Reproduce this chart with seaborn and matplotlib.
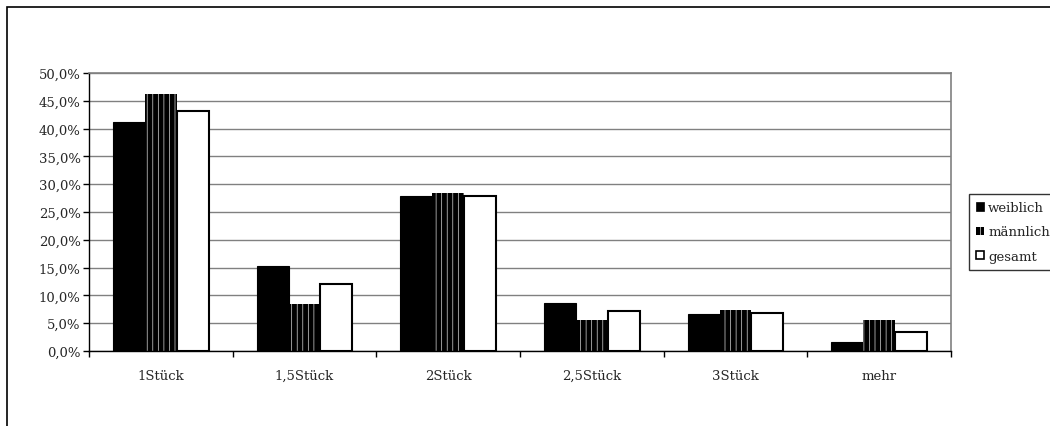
import matplotlib
matplotlib.use("Agg")
import matplotlib.pyplot as plt
from matplotlib.patches import Patch, Rectangle
from matplotlib.ticker import FixedLocator, FuncFormatter
import numpy as np
import pandas as pd
import seaborn as sns

# Anteile in Prozent je Kategorie
categories = ["1Stück", "1,5Stück", "2Stück", "2,5Stück", "3Stück", "mehr"]
weiblich = [41.1, 15.2, 27.8, 8.7, 6.6, 1.6]
maennlich = [46.2, 8.4, 28.4, 5.5, 7.4, 5.6]
gesamt = [43.2, 12.0, 27.8, 7.2, 6.9, 3.4]
series_names = ["weiblich", "männlich", "gesamt"]

df = pd.DataFrame({
    "Kategorie": categories * 3,
    "Gruppe": [series_names[0]] * 6 + [series_names[1]] * 6 + [series_names[2]] * 6,
    "Anteil": weiblich + maennlich + gesamt,
})

sns.set_style("white")
plt.rcParams["font.family"] = ["DejaVu Serif"]
plt.rcParams["hatch.linewidth"] = 0.5

FS = 9.5
HATCH_COL = "#d8d8d8"

fig = plt.figure(figsize=(10.5, 4.27), dpi=100)
ax = fig.add_axes([89 / 1050, 1 - 352 / 427, (951 - 89) / 1050, (352 - 74) / 427])

palette = {"weiblich": "black", "männlich": "black", "gesamt": "white"}
sns.barplot(data=df, x="Kategorie", y="Anteil", hue="Gruppe", order=categories,
            hue_order=series_names, palette=palette, width=0.667, gap=0,
            saturation=1, legend=False, ax=ax)

# Balken gestalten: schwarz, schwarz mit heller Schraffur, weiß mit Rand
for cont, name in zip(ax.containers, series_names):
    for p in cont:
        if name == "weiblich":
            p.set_facecolor("black")
            p.set_edgecolor("black")
            p.set_linewidth(0.8)
        elif name == "männlich":
            p.set_facecolor("black")
            p.set_edgecolor(HATCH_COL)
            p.set_hatch("|||")
            p.set_linewidth(0)
        else:
            p.set_facecolor("white")
            p.set_edgecolor("black")
            p.set_linewidth(1.5)

ax.set_xlim(-0.5, len(categories) - 0.5)
ax.set_ylim(0, 50)
ax.set_yticks(np.arange(0, 50.1, 5))
ax.yaxis.set_major_formatter(FuncFormatter(lambda v, _: f"{v:.1f}%".replace(".", ",")))
ax.yaxis.grid(True, color="#808080", linewidth=1.0)
ax.set_axisbelow(True)

# Teilstriche an den Kategoriegrenzen, Beschriftung in der Mitte
ax.xaxis.set_major_locator(FixedLocator(np.arange(-0.5, len(categories), 1.0)))
ax.xaxis.set_major_formatter(FuncFormatter(lambda v, _: ""))
ax.xaxis.set_minor_locator(FixedLocator(np.arange(len(categories))))
ax.set_xticklabels(categories, minor=True)
ax.tick_params(axis="x", which="major", direction="out", length=4, width=1, color="black", bottom=True)
ax.tick_params(axis="x", which="minor", length=0, pad=13, labelsize=FS)
ax.tick_params(axis="y", direction="out", length=4, width=1, color="black", left=True, pad=2, labelsize=FS)
ax.set_xlabel("")
ax.set_ylabel("")

for side in ["left", "bottom"]:
    ax.spines[side].set_color("black")
    ax.spines[side].set_linewidth(1)
for side in ["top", "right"]:
    ax.spines[side].set_color("#808080")
    ax.spines[side].set_linewidth(1.2)

# Legende
handles = [
    Patch(facecolor="black", edgecolor="black", linewidth=0.5, label="weiblich"),
    Patch(facecolor="black", edgecolor=HATCH_COL, hatch="|||", linewidth=0, label="männlich"),
    Patch(facecolor="white", edgecolor="black", linewidth=1.2, label="gesamt"),
]
leg = fig.legend(handles=handles, loc="upper left",
                 bbox_to_anchor=(969 / 1050, 1 - 195 / 427),
                 fontsize=FS, frameon=True, fancybox=False, shadow=False,
                 handlelength=0.6, handleheight=0.6, handletextpad=0.3,
                 labelspacing=0.85, borderpad=0.55, borderaxespad=0)
leg.get_frame().set_edgecolor("black")
leg.get_frame().set_linewidth(1.0)

# Rahmen um den Diagrammbereich
fig.patches.append(Rectangle((7 / 1050, -0.2), 1.2, 1 - 8 / 427 + 0.2,
                             transform=fig.transFigure, fill=False,
                             edgecolor="black", linewidth=1.2, clip_on=False))

fig.savefig("out.png", dpi=100)
